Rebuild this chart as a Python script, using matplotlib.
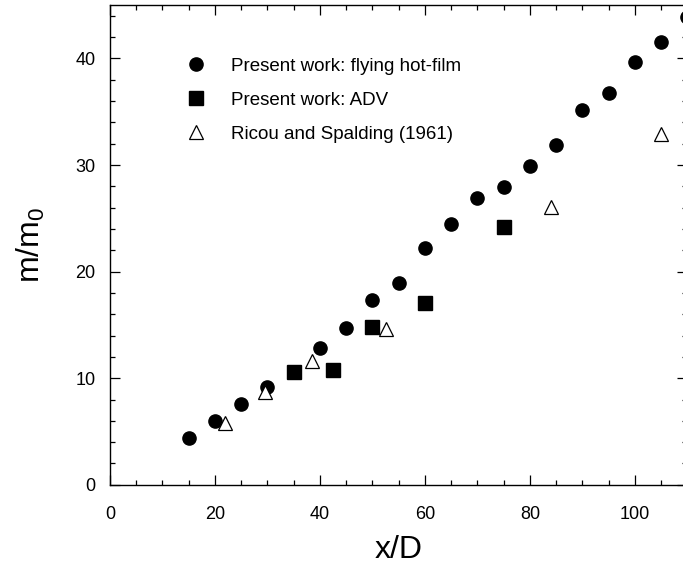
import numpy as np
import matplotlib
matplotlib.use('Agg')
import matplotlib.pyplot as plt
from matplotlib.ticker import MultipleLocator

plt.rcParams['font.family'] = ['Liberation Sans', 'DejaVu Sans']

# flying hot-film
film_x = [15, 20, 25, 30, 40, 45, 50, 55, 60, 65, 70, 75, 80, 85, 90, 95, 100, 105, 110]
film_y = [4.4, 6.0, 7.6, 9.2, 12.8, 14.7, 17.3, 18.9, 22.2, 24.5, 26.9, 27.9, 29.9, 31.9, 35.2, 36.8, 39.7, 41.5, 43.9]

# ADV
adv_x = [35, 42.5, 50, 60, 75]
adv_y = [10.6, 10.8, 14.8, 17.1, 24.2]

# Ricou and Spalding (1961)
rs_x = [22, 29.5, 38.5, 52.5, 84, 105]
rs_y = [5.8, 8.7, 11.6, 14.6, 26.1, 32.9]

fig = plt.figure(figsize=(6.83, 5.69), dpi=100)
ax = fig.add_axes([0.161, 0.148, 0.8455, 0.843])

ax.plot(film_x, film_y, 'o', color='black', ms=9.5, ls='none', label='Present work: flying hot-film')
ax.plot(adv_x, adv_y, 's', color='black', ms=9.5, ls='none', label='Present work: ADV')
ax.plot(rs_x, rs_y, '^', mfc='white', mec='black', mew=0.9, ms=9.5, ls='none',
        label='Ricou and Spalding (1961)')

ax.set_xlim(0, 110)
ax.set_ylim(0, 45)
ax.xaxis.set_major_locator(MultipleLocator(20))
ax.xaxis.set_minor_locator(MultipleLocator(5))
ax.yaxis.set_major_locator(MultipleLocator(10))
ax.yaxis.set_minor_locator(MultipleLocator(2))
ax.tick_params(which='both', direction='in', top=True, right=True, labelsize=13)
ax.tick_params(which='major', length=7, width=0.9)
ax.tick_params(which='minor', length=3.5, width=0.9)
ax.tick_params(axis='x', which='major', pad=15)
ax.tick_params(axis='y', which='major', pad=10.5)
for s in ax.spines.values():
    s.set_linewidth(1.0)

ax.set_xlabel('x/D', fontsize=23, labelpad=9)
ax.set_ylabel(r'm/m$_\mathregular{0}$', fontsize=23, labelpad=20)

ax.legend(loc='upper left', bbox_to_anchor=(0.1326, 0.89), frameon=False, numpoints=1,
          fontsize=13.5, borderpad=0, borderaxespad=0, handlelength=1.0,
          handletextpad=1.37, labelspacing=0.9)

fig.savefig('out.png', dpi=100)
